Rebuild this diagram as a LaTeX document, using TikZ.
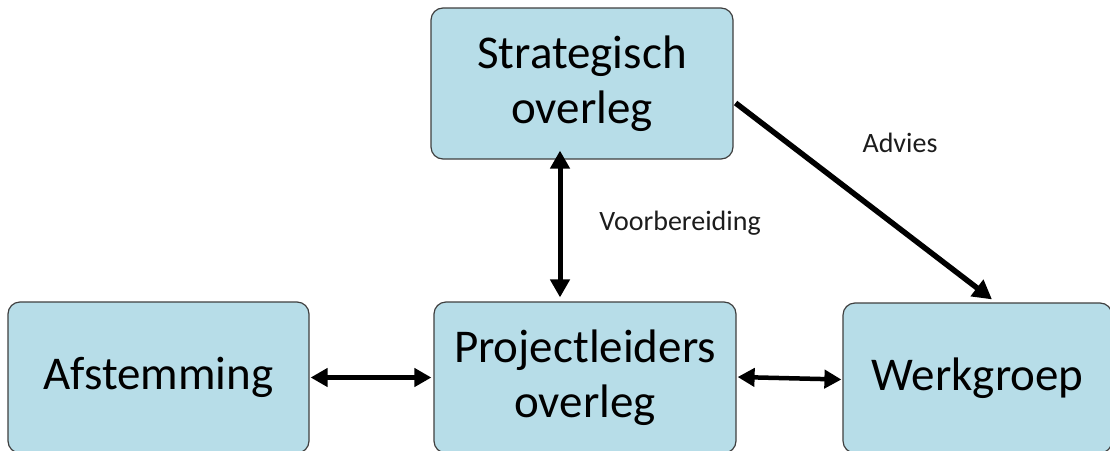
\documentclass[tikz,border=0pt]{standalone}
\usepackage{fontspec}
\setmainfont{Carlito}
\usetikzlibrary{arrows.meta}
\definecolor{boxfill}{HTML}{B7DDE8}
\definecolor{boxline}{HTML}{3F3F3F}
\definecolor{labeltext}{HTML}{1C1C1C}
\tikzset{
  box/.style={draw=boxline, line width=1.2pt, fill=boxfill, rounded corners=12pt,
    align=center, inner sep=0pt, text=black,
    font=\fontsize{47}{55}\selectfont},
  twoway/.style={line width=5pt, {Triangle[length=18pt,width=19pt]}-{Triangle[length=18pt,width=19pt]}},
  sideway/.style={line width=4.5pt, {Triangle[length=17pt,width=18pt]}-{Triangle[length=17pt,width=18pt]}},
  oneway/.style={line width=5.5pt, -{Triangle[length=19pt,width=20pt]}},
  note/.style={text=labeltext, font=\fontsize{28}{32}\selectfont, inner sep=0pt}
}
\begin{document}
\begin{tikzpicture}[x=1pt, y=-1pt]
  \useasboundingbox (0,0) rectangle (1110,450);
  \clip (0,0) rectangle (1110,450);

  % the four bodies
  \node[box, minimum width=302pt, minimum height=151pt] (strat) at (582,83.5) {Strategisch\\overleg};
  \node[box, minimum width=301pt, minimum height=151pt] (afst) at (158.5,377.5) {Afstemming};
  \node[box, minimum width=302pt, minimum height=151pt] (proj) at (585,377.5) {Projectleiders\\overleg};
  \node[box, minimum width=269pt, minimum height=150pt] (werk) at (977.5,378) {Werkgroep};

  % connections
  \draw[twoway] ([xshift=-22pt, yshift=9pt]strat.south) -- ([xshift=-25pt, yshift=4pt]proj.north);
  \draw[sideway] ([xshift=1pt]afst.east) -- ([xshift=-2pt]proj.west);
  \draw[sideway] ([xshift=1pt, yshift=0.5pt]proj.east) -- ([xshift=-1pt, yshift=-1.5pt]werk.west);
  \draw[oneway] ([xshift=2pt, yshift=-19.5pt]strat.east) -- ([xshift=14.5pt, yshift=3pt]werk.north);

  % labels
  \node[note] (prep) at (680,223) {Voorbereiding};
  \node[note] (advice) at (900,143) {Advies};
\end{tikzpicture}
\end{document}
